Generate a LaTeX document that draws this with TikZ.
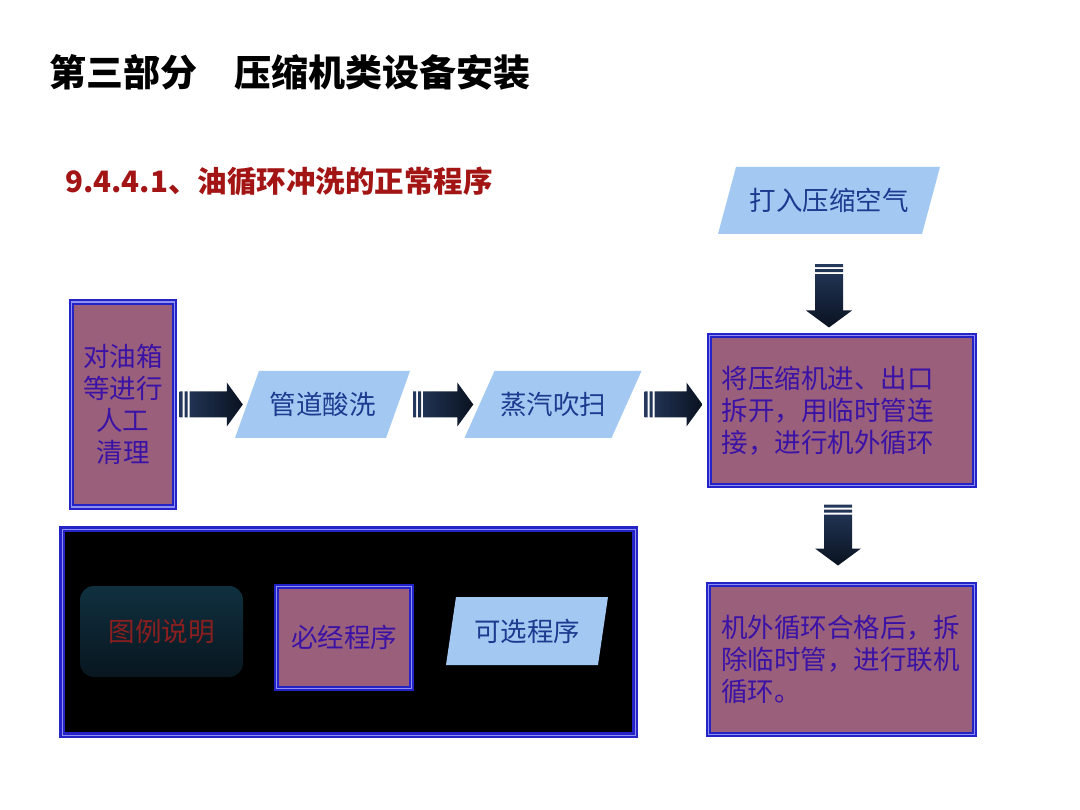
\documentclass[tikz,border=0pt]{standalone}
\usepackage{fontspec}
\newfontfamily\cjk{Noto Sans CJK SC}
\usetikzlibrary{calc}
\definecolor{mauve}{HTML}{9A5F7A}
\definecolor{bblue}{HTML}{2323C8}
\definecolor{dblc}{HTML}{9090F0}
\definecolor{tpurple}{HTML}{3B12A6}
\definecolor{pfill}{HTML}{A3C9F3}
\definecolor{ptext}{HTML}{1D3A8F}
\definecolor{tred}{HTML}{A31515}
\definecolor{lred}{HTML}{8B1E1E}
\definecolor{lgtop}{HTML}{10303F}
\definecolor{lgbot}{HTML}{08161F}
\definecolor{arrL}{HTML}{24395C}
\definecolor{arrR}{HTML}{0A1220}
\newcommand\bodyfont{\cjk\fontsize{26.5}{32}\selectfont}
\tikzset{
  mustbox/.style={rectangle, fill=mauve, draw=bblue, line width=2pt,
    double=dblc, double distance=1.3pt, text=tpurple, font=\bodyfont,
    inner sep=0pt, align=center},
  optbox/.style={rectangle, draw=none, text=ptext, font=\bodyfont, inner sep=0pt,
    path picture={\fill[pfill] (path picture bounding box.south west)
      -- ($(path picture bounding box.north west)+(#1,0)$)
      -- (path picture bounding box.north east)
      -- ($(path picture bounding box.south east)-(#1,0)$) -- cycle;}},
  optbox/.default=24,
  titletext/.style={anchor=west, inner sep=0pt},
}
\newcommand\harrow[2]{%
  \shade[left color=arrL, right color=arrR] let \p1=#1, \p2=#2 in
   (\x1,\y1-13pt) rectangle (\x1+3pt,\y1+13pt)
   (\x1+5pt,\y1-13pt) rectangle (\x1+8pt,\y1+13pt)
   (\x1+10pt,\y1-13pt) -- (\x2-16pt,\y1-13pt) -- (\x2-16pt,\y1-22pt) -- (\x2,\y1)
   -- (\x2-16pt,\y1+22pt) -- (\x2-16pt,\y1+13pt) -- (\x1+10pt,\y1+13pt) -- cycle;}
\newcommand\varrow[2]{%
  \shade[top color=arrL, bottom color=arrR] let \p1=#1, \p2=#2 in
   (\x1-14pt,\y1) rectangle (\x1+14pt,\y1-3pt)
   (\x1-14pt,\y1-5pt) rectangle (\x1+14pt,\y1-8pt)
   (\x1-14pt,\y1-10pt) -- (\x1-14pt,\y2+17pt) -- (\x1-23pt,\y2+17pt) -- (\x1,\y2)
   -- (\x1+23pt,\y2+17pt) -- (\x1+14pt,\y2+17pt) -- (\x1+14pt,\y1-10pt) -- cycle;}
\begin{document}
\begin{tikzpicture}[x=1pt,y=-1pt]
\useasboundingbox[fill=white] (0,0) rectangle (1080,810);
% titles
\node[titletext, font={\cjk\fontsize{37}{40}\selectfont\bfseries}] (title) at (49,72) {第三部分　压缩机类设备安装};
\node[titletext, text=tred, font={\cjk\fontsize{29.5}{33}\selectfont\bfseries}] (sub) at (65,181) {9.4.4.1、油循环冲洗的正常程序};
% main flow
\node[mustbox, minimum width=103pt, minimum height=205pt] (b1) at (123,404.5) {对油箱\\等进行\\人工\\清理};
\node[optbox=24, minimum width=175pt, minimum height=67pt] (p1) at (322.5,404.5) {管道酸洗};
\node[optbox=30, minimum width=177pt, minimum height=67pt] (p2) at (553,404.5) {蒸汽吹扫};
\node[optbox=18, minimum width=222pt, minimum height=67pt] (pa) at (829,200.5) {打入压缩空气};
\node[mustbox, minimum width=265pt, minimum height=150pt, text width=241pt, align=left] (b4) at (842,410.5) {将压缩机进、出口\\拆开，用临时管连\\接，进行机外循环};
\node[mustbox, minimum width=266pt, minimum height=150pt, text width=241pt, align=left] (b5) at (841.5,659.5) {机外循环合格后，拆\\除临时管，进行联机\\循环。};
% block arrows
\harrow{($(b1.east)+(4,0)$)}{($(p1.west)+(8,0)$)}
\harrow{($(p1.east)+(3,0)$)}{($(p2.west)+(9,0)$)}
\harrow{($(p2.east)+(3,0)$)}{($(p2.east -| b4.west)+(-6,0)$)}
\varrow{($(pa.south)+(0,30)$)}{($(pa.south |- b4.north)+(0,-7)$)}
\varrow{($(b4.south)+(-4,18)$)}{($(b5.north)+(-4,-18)$)}
% legend
\node[rectangle, fill=black, draw=bblue, line width=2.2pt, double=dblc, double distance=0.8pt,
  minimum width=573pt, minimum height=206pt] (leg) at (348.5,632) {};
\node[rectangle, rounded corners=14pt, top color=lgtop, bottom color=lgbot, draw=none,
  minimum width=163pt, minimum height=91pt, text=lred, font=\bodyfont] (lg) at (161.5,631.5) {图例说明};
\node[mustbox, minimum width=135pt, minimum height=102pt] (lb) at (344,637.5) {必经程序};
\node[optbox=10, minimum width=162pt, minimum height=68pt] (lp) at (527,631) {可选程序};
\end{tikzpicture}
\end{document}
